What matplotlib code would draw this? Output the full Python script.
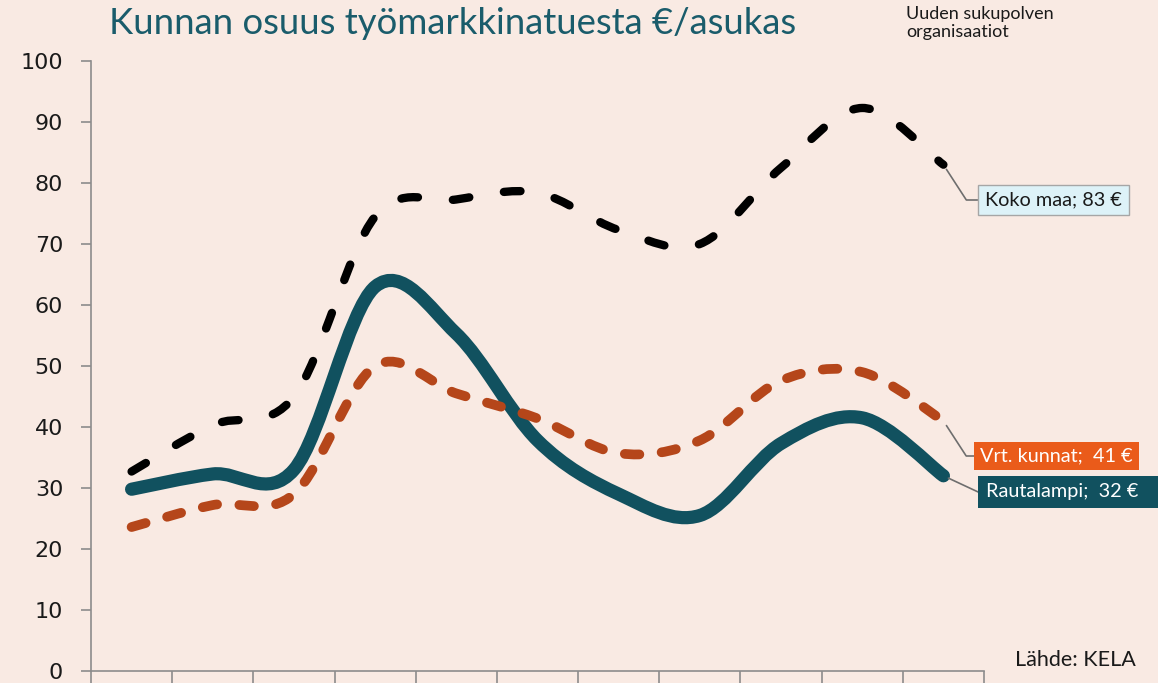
import numpy as np
import matplotlib
matplotlib.use('Agg')
import matplotlib.pyplot as plt
from matplotlib.path import Path
from matplotlib.patches import PathPatch

# data, 11 yearly points
years = ['2012', '2013', '2014', '2015', '2016', '2017', '2018', '2019', '2020', '2021', '2022']
koko_maa = [32.7, 40.3, 45.0, 74.5, 77.3, 78.4, 72.3, 70.0, 82.5, 92.3, 83.0]
rautalampi = [29.8, 32.3, 33.0, 63.0, 55.3, 37.8, 29.0, 25.5, 37.3, 41.5, 32.0]
vrt_kunnat = [23.6, 27.2, 29.0, 50.0, 45.5, 41.4, 35.7, 37.8, 47.6, 49.0, 41.0]
yticks = [0, 10, 20, 30, 40, 50, 60, 70, 80, 90, 100]

bg = '#F9EAE3'
teal = '#11515F'
orange_line = '#B5461A'
orange_box = '#EA5B1A'
title_col = '#1A5C6B'


def smooth_path(values):
    # Excel-style smoothed line: cubic bezier segments through the points
    pts = np.column_stack([np.arange(len(values)), values]).astype(float)
    n = len(pts)
    verts = [pts[0]]
    codes = [Path.MOVETO]
    for i in range(n - 1):
        p0 = pts[max(i - 1, 0)]
        p1 = pts[i]
        p2 = pts[i + 1]
        p3 = pts[min(i + 2, n - 1)]
        verts += [p1 + (p2 - p0) / 6, p2 - (p3 - p1) / 6, p2]
        codes += [Path.CURVE4] * 3
    return Path(verts, codes)


fig = plt.figure(figsize=(11.58, 6.83), dpi=100)
fig.patch.set_facecolor(bg)
ax = fig.add_axes([91 / 1158, 12 / 683, 893 / 1158, 610 / 683])
ax.set_facecolor(bg)

ax.add_patch(PathPatch(smooth_path(rautalampi), fill=False, edgecolor=teal, lw=9.5,
                       capstyle='round', joinstyle='round', zorder=3))
ax.add_patch(PathPatch(smooth_path(vrt_kunnat), fill=False, edgecolor=orange_line, lw=7,
                       linestyle=(0, (1.5, 2.3)), capstyle='round', joinstyle='round', zorder=4))
ax.add_patch(PathPatch(smooth_path(koko_maa), fill=False, edgecolor='black', lw=6,
                       linestyle=(0, (2.0, 4.2)), capstyle='round', joinstyle='round', zorder=5))

ax.set_xlim(-0.5, 10.5)
ax.set_ylim(0, 100)
ax.set_xticks(np.arange(-0.5, 11, 1))
ax.set_xticklabels([])
ax.set_yticks(yticks)
ax.set_yticklabels([str(t) for t in yticks], fontsize=16, family='DejaVu Sans', color='#1a1a1a')
ax.tick_params(axis='y', direction='out', length=7, width=1.2, color='#8C8C8C', pad=13)
ax.tick_params(axis='x', direction='out', length=14, width=1.2, color='#8C8C8C')
for s in ['top', 'right']:
    ax.spines[s].set_visible(False)
for s in ['left', 'bottom']:
    ax.spines[s].set_color('#8C8C8C')
    ax.spines[s].set_linewidth(1.2)

# end labels
last = len(years) - 1
ax.annotate('Koko maa; 83 €', xy=(last, koko_maa[-1]), xytext=(985, 683 - 200),
            textcoords='figure pixels', ha='left', va='center', fontsize=14.3, family='Lato',
            color='#1a1a1a',
            bbox=dict(boxstyle='square,pad=0.35', fc='#DDF2F8', ec='#A6A6A6', lw=1),
            arrowprops=dict(arrowstyle='-', color='#6E6E6E', lw=1.2, relpos=(0, 0.5),
                            shrinkA=0, shrinkB=4,
                            connectionstyle='angle,angleA=0,angleB=-57,rad=0'))
ax.annotate('Vrt. kunnat;  41 €', xy=(last, vrt_kunnat[-1]), xytext=(980, 683 - 456),
            textcoords='figure pixels', ha='left', va='center', fontsize=14.3, family='Lato',
            color='white',
            bbox=dict(boxstyle='square,pad=0.3', fc=orange_box, ec='none'),
            arrowprops=dict(arrowstyle='-', color='#6E6E6E', lw=1.2, relpos=(0, 0.5),
                            shrinkA=0, shrinkB=4,
                            connectionstyle='angle,angleA=0,angleB=-57,rad=0'))
ax.annotate('Rautalampi;  32 €   ', xy=(last, rautalampi[-1]), xytext=(986, 683 - 492),
            textcoords='figure pixels', ha='left', va='center', fontsize=14.3, family='Lato',
            color='white',
            bbox=dict(boxstyle='square,pad=0.38', fc=teal, ec='none'),
            arrowprops=dict(arrowstyle='-', color='#6E6E6E', lw=1.2, relpos=(0, 0.5),
                            shrinkA=0, shrinkB=4,
                            connectionstyle='angle,angleA=0,angleB=-25,rad=0'))

fig.text(453 / 1158, 1 - 24 / 683, 'Kunnan osuus työmarkkinatuesta €/asukas',
         ha='center', va='center', fontsize=26.3, family='Lato', color=title_col)
fig.text(906 / 1158, 1 - 6 / 683, 'Uuden sukupolven\norganisaatiot', ha='left', va='top',
         fontsize=13, family='Lato', color='#1a1a1a', linespacing=1.15)
fig.text(1015 / 1158, 1 - 660 / 683, 'Lähde: KELA', ha='left', va='center',
         fontsize=15.5, family='Lato', color='#1a1a1a')

fig.savefig('out.png', dpi=100, facecolor=bg)
